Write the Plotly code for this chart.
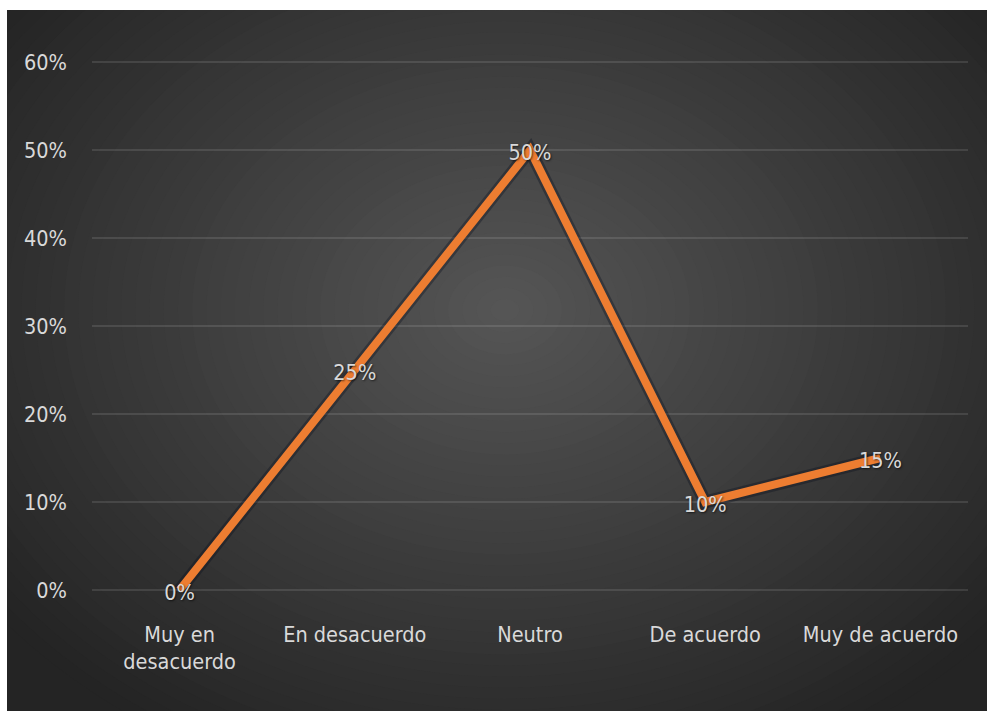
import plotly.graph_objects as go

categories = ["Muy en<br>desacuerdo", "En desacuerdo", "Neutro", "De acuerdo", "Muy de acuerdo"]
values = [0.00, 0.25, 0.50, 0.10, 0.15]
labels = ["0%", "25%", "50%", "10%", "15%"]
ytick_vals = [0, 0.1, 0.2, 0.3, 0.4, 0.5, 0.6]
ytick_text = ["0%", "10%", "20%", "30%", "40%", "50%", "60%"]

FW, FH = 987, 711
L, R, T, B = 92, 19, 52, 110
PW, PH = FW - L - R, FH - T - B
Y0PIX, Y60PIX = 590, 62
ppu = (Y0PIX - Y60PIX) / 0.6
ymin = -((FH - B) - Y0PIX) / ppu
ymax = 0.6 + (Y60PIX - T) / ppu
LABEL_SHIFT = 5 / ppu  # data labels sit a few pixels below the points

def px(x):
    return (x - L) / PW

def py(y):
    return ((FH - B) - y) / PH

FONT = "DejaVu Sans Condensed, Liberation Sans Narrow, Roboto, sans-serif"
FS = 21.5
TXT = "#d9d9d9"

shapes = []
cx, cy, RX, RY = 505, 310, 640, 500
N = 45
for i in range(N):
    d = 1 - i / N
    c = int(round(86 - (86 - 36) * d ** 1.0))
    col = f"rgb({c},{c},{c})"
    shapes.append(dict(type="circle", xref="paper", yref="paper", layer="below",
                       x0=px(cx - RX * d), x1=px(cx + RX * d),
                       y0=py(cy + RY * d), y1=py(cy - RY * d),
                       fillcolor=col, line=dict(width=0)))
shapes.append(dict(type="rect", xref="paper", yref="paper", layer="below",
                   x0=px(-10), x1=px(FW + 10), y0=py(10), y1=py(-10),
                   fillcolor="white", line=dict(width=0)))
shapes.append(dict(type="rect", xref="paper", yref="paper", layer="below",
                   x0=px(-10), x1=px(7), y0=py(-10), y1=py(FH + 10),
                   fillcolor="white", line=dict(width=0)))

fig = go.Figure()
fig.add_trace(go.Scatter(x=categories, y=values, mode="lines",
                         line=dict(color="rgba(10,15,30,0.35)", width=13),
                         hoverinfo="skip", showlegend=False))
fig.add_trace(go.Scatter(x=categories, y=values, mode="lines",
                         line=dict(color="#ED7D31", width=8),
                         showlegend=False))
fig.add_trace(go.Scatter(x=categories, y=values, mode="text", yaxis="y2",
                         text=labels, textposition="middle center",
                         textfont=dict(color=TXT, size=FS, family=FONT,
                                       shadow="1px 1px 2px rgba(0,0,0,0.6)"),
                         cliponaxis=False, hoverinfo="skip", showlegend=False))

fig.update_layout(
    width=FW, height=FH,
    margin=dict(l=L, r=R, t=T, b=B),
    paper_bgcolor="#242424",
    plot_bgcolor="rgba(0,0,0,0)",
    shapes=shapes,
    font=dict(family=FONT, color=TXT, size=FS),
    xaxis=dict(type="category", range=[-0.5, 4.5], showgrid=False,
               zeroline=False, showline=False, ticks="",
               ticklabelstandoff=18,
               tickfont=dict(size=FS, color=TXT, family=FONT)),
    yaxis=dict(range=[ymin, ymax], tickvals=ytick_vals, ticktext=ytick_text,
               showgrid=True, gridcolor="rgba(255,255,255,0.11)", gridwidth=1.5,
               zeroline=False, showline=False, ticks="",
               ticklabelstandoff=24,
               tickfont=dict(size=FS, color=TXT, family=FONT)),
    yaxis2=dict(overlaying="y", range=[ymin + LABEL_SHIFT, ymax + LABEL_SHIFT],
                visible=False),
)

fig.write_html("out.html", config={"displayModeBar": False},
               post_script="document.body.style.margin='0px';"
                           "document.body.style.background='#242424';"
                           "document.documentElement.style.background='#242424';")
